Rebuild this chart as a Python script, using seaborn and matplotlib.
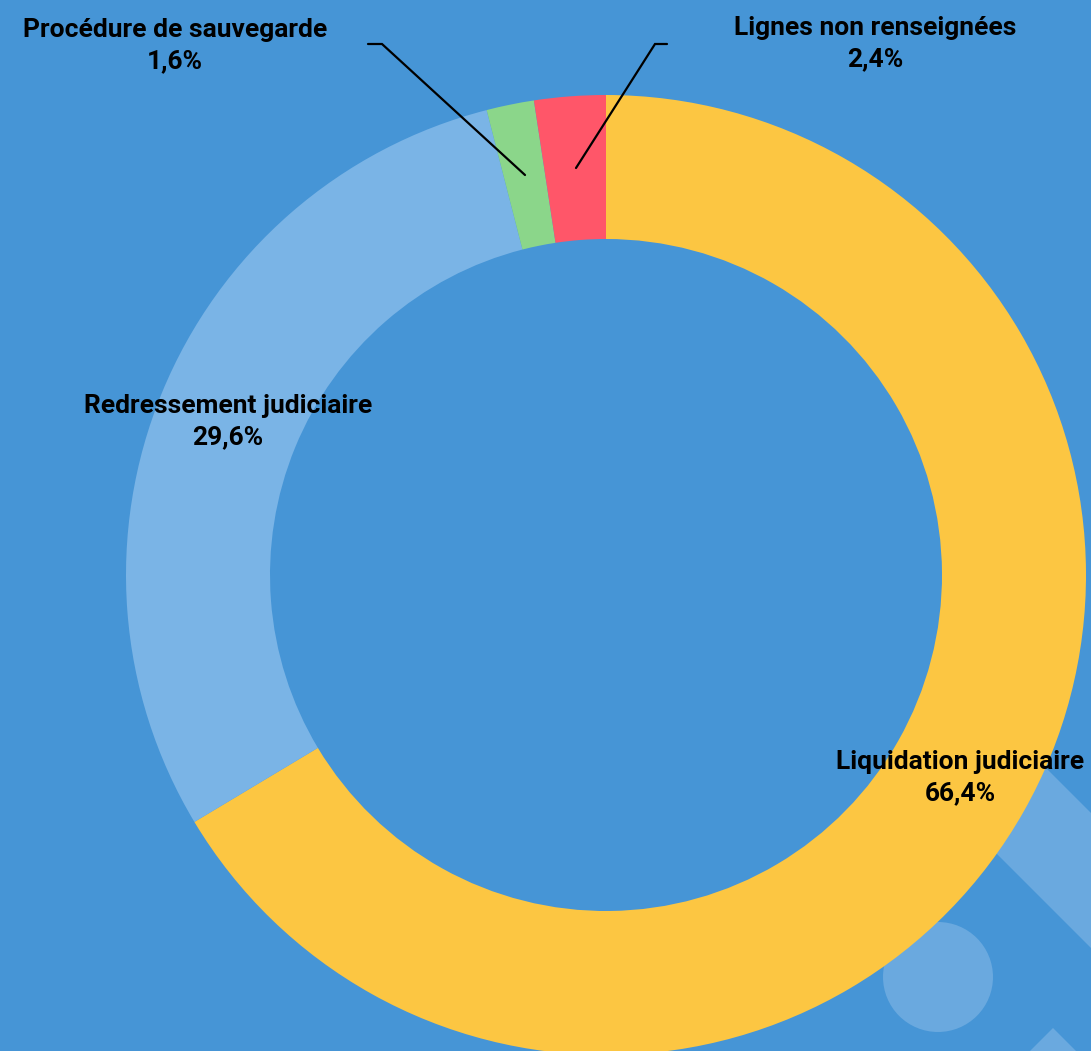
import matplotlib
matplotlib.use("Agg")
import matplotlib.pyplot as plt
import matplotlib.patches as mpatches
import seaborn as sns

sns.set_theme(style="white")
plt.rcParams['font.family'] = ['Roboto', 'DejaVu Sans']

categories = ["Liquidation judiciaire", "Redressement judiciaire",
              "Procédure de sauvegarde", "Lignes non renseignées"]
values = [66.4, 29.6, 1.6, 2.4]
colors = ["#FCC642", "#7AB4E6", "#8BD68A", "#FF5669"]

BG = "#4695D6"
DECO = "#6AA9DF"

W, H = 1091, 1051
fig = plt.figure(figsize=(W / 100, H / 100), dpi=100, facecolor=BG)
ax = fig.add_axes([0, 0, 1, 1])
ax.set_facecolor(BG)
ax.set_xlim(0, W)
ax.set_ylim(0, H)
ax.set_aspect("equal")
ax.axis("off")

def py(y):
    return H - y

# background decorations (behind the ring)
c1, c2 = 1700, 2600
band = [((c1 + 278) / 2, py((c1 - 278) / 2)), ((c2 + 278) / 2, py((c2 - 278) / 2)),
        ((c2 + 143) / 2, py((c2 - 143) / 2)), ((c1 + 143) / 2, py((c1 - 143) / 2))]
ax.add_patch(mpatches.Polygon(band, closed=True, color=DECO, zorder=0, lw=0))
ax.add_patch(mpatches.Circle((938, py(977)), 55, color=DECO, zorder=0, lw=0))
sq = [(1053, py(1028)), (1140, py(1115)), (1053, py(1202)), (966, py(1115))]
ax.add_patch(mpatches.Polygon(sq, closed=True, color=DECO, zorder=0, lw=0,
                              joinstyle="round"))

cx, cy, R, width = 606, py(575), 480, 144
wedges, _ = ax.pie(values, colors=colors, startangle=90, counterclock=False,
                   radius=R, center=(cx, cy),
                   wedgeprops=dict(width=width, linewidth=0, edgecolor="none"),
                   frame=True)
for w in wedges:
    w.set_zorder(2)
ax.set_xlim(0, W)
ax.set_ylim(0, H)
ax.axis("off")

def fmt(v):
    return f"{v:.1f}".replace(".", ",") + "%"

label_pos = [(960, 778), (228, 422), (175, 46), (875, 44)]
for cat, v, (lx, ly) in zip(categories, values, label_pos):
    ax.text(lx, py(ly), f"{cat}\n{fmt(v)}", ha="center", va="center",
            fontsize=19, fontweight="bold", color="black",
            linespacing=1.38, zorder=5)

# leader lines
ax.plot([368, 382, 525], [py(44), py(44), py(175)], color="black", lw=1.6, zorder=4,
        solid_joinstyle="miter")
ax.plot([667, 655, 576], [py(44), py(44), py(168)], color="black", lw=1.6, zorder=4,
        solid_joinstyle="miter")

fig.savefig("out.png", dpi=100, facecolor=BG)
